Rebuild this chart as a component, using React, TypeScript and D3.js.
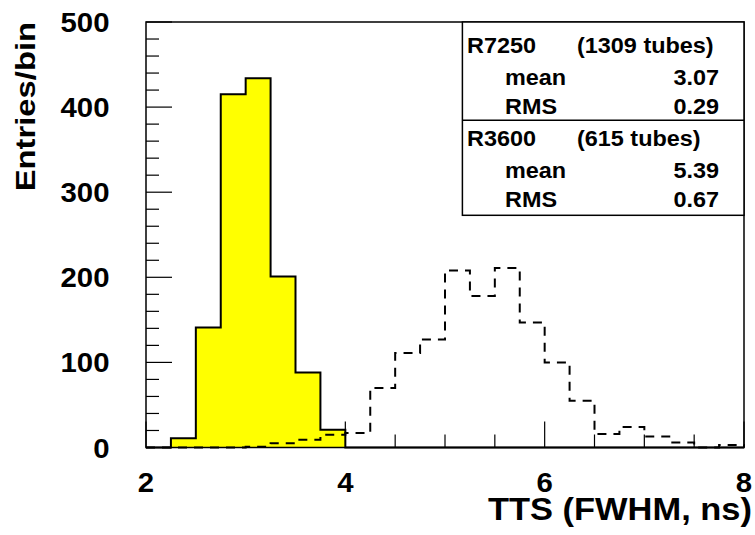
import React from "react";
import * as d3 from "d3";

// Histogram bin edges (ns), 0.25 ns bins over the full axis range
const binEdges = [
  2.0, 2.25, 2.5, 2.75, 3.0, 3.25, 3.5, 3.75, 4.0, 4.25, 4.5, 4.75, 5.0,
  5.25, 5.5, 5.75, 6.0, 6.25, 6.5, 6.75, 7.0, 7.25, 7.5, 7.75, 8.0,
];

// R7250 entries per bin (filled histogram)
const r7250Counts = [
  0, 11, 141, 415, 434, 201, 88, 21, 0, 0, 0, 0, 0, 0, 0, 0, 0, 0, 0, 0, 0, 0,
  0, 0,
];

// R3600 entries per bin (dashed outline)
const r3600Counts = [
  0, 0, 0, 0, 1, 5, 9, 15, 17, 70, 111, 127, 208, 178, 211, 147, 100, 55, 16,
  24, 13, 6, 0, 3,
];

const xMajorTicks = [2, 4, 6, 8];
const xMinorTicks = [2.5, 3, 3.5, 4.5, 5, 5.5, 6.5, 7, 7.5];
const yMajorTicks = [0, 100, 200, 300, 400, 500];
const yMinorStep = 20;

const legendRows = [
  { label: "R7250", count: "(1309 tubes)", mean: "3.07", rms: "0.29" },
  { label: "R3600", count: "(615 tubes)", mean: "5.39", rms: "0.67" },
];

const W = 755;
const H = 535;
const FONT = "'Liberation Sans', Arial, Helvetica, sans-serif";

const x = d3.scaleLinear().domain([2, 8]).range([146, 744]);
const y = d3.scaleLinear().domain([0, 500]).range([447.5, 22]);

function stepPath(counts: number[]): string {
  const pts: [number, number][] = [[binEdges[0], 0]];
  counts.forEach((c, i) => {
    pts.push([binEdges[i], c]);
    pts.push([binEdges[i + 1], c]);
  });
  pts.push([binEdges[binEdges.length - 1], 0]);
  const line = d3
    .line<[number, number]>()
    .x((d) => x(d[0]))
    .y((d) => y(d[1]));
  return line(pts) || "";
}

type TProps = {
  x: number;
  y: number;
  size: number;
  sx: number;
  anchor?: "start" | "middle" | "end";
  rotate?: number;
  children: React.ReactNode;
};

function T({ x: tx, y: ty, size, sx, anchor = "start", rotate = 0, children }: TProps) {
  return (
    <text
      transform={`translate(${tx},${ty}) rotate(${rotate}) scale(${sx},1)`}
      fontFamily={FONT}
      fontWeight="bold"
      fontSize={size}
      textAnchor={anchor}
      fill="#000"
    >
      {children}
    </text>
  );
}

export default function App() {
  const yMinor = d3.range(0, 500 + 1, yMinorStep).filter((v) => v % 100 !== 0);
  const legendX = 462.4;
  const legendTop = y(500);
  const legendRight = x(8);
  const dividerY = 120.3;
  const legendBottom = 215.3;
  const rowBase = [52.8, 84.9, 113.9];
  const blockStep = 93.5;

  return (
    <svg
      width={W}
      height={H}
      style={{ position: "absolute", left: 0, top: 0, background: "#fff" }}
    >
      <rect x={0} y={0} width={W} height={H} fill="#fff" />

      {/* axis ticks */}
      <g stroke="#000" strokeWidth={1.2}>
        {yMajorTicks.map((v) => (
          <line key={`ym${v}`} x1={x(2)} x2={x(2) + 26} y1={y(v)} y2={y(v)} />
        ))}
        {yMinor.map((v) => (
          <line key={`yn${v}`} x1={x(2)} x2={x(2) + 13} y1={y(v)} y2={y(v)} />
        ))}
        {xMajorTicks.map((v) => (
          <line key={`xm${v}`} x1={x(v)} x2={x(v)} y1={y(0)} y2={y(0) - 26} />
        ))}
        {xMinorTicks.map((v) => (
          <line key={`xn${v}`} x1={x(v)} x2={x(v)} y1={y(0)} y2={y(0) - 13} />
        ))}
      </g>

      {/* R7250 filled histogram */}
      <path
        d={stepPath(r7250Counts)}
        fill="#ffff00"
        stroke="#000"
        strokeWidth={2}
        strokeLinejoin="miter"
      />

      {/* R3600 dashed histogram */}
      <path
        d={stepPath(r3600Counts)}
        fill="none"
        stroke="#000"
        strokeWidth={2}
        strokeDasharray="9 7"
      />

      {/* frame */}
      <rect
        x={x(2)}
        y={y(500)}
        width={x(8) - x(2)}
        height={y(0) - y(500)}
        fill="none"
        stroke="#000"
        strokeWidth={1.5}
      />

      {/* y tick labels */}
      {yMajorTicks.map((v) => (
        <T key={`yl${v}`} x={109.5} y={y(v) + 10} size={28.5} sx={1.03} anchor="end">
          {v}
        </T>
      ))}

      {/* x tick labels */}
      {xMajorTicks.map((v) => (
        <T key={`xl${v}`} x={x(v)} y={492} size={28.5} sx={1.03} anchor="middle">
          {v}
        </T>
      ))}

      {/* axis titles */}
      <T x={752} y={520} size={30.5} sx={1.13} anchor="end">
        TTS (FWHM, ns)
      </T>
      <T x={35} y={22} size={28} sx={1.17} anchor="end" rotate={-90}>
        Entries/bin
      </T>

      {/* statistics box */}
      <g>
        <rect
          x={legendX}
          y={legendTop}
          width={legendRight - legendX}
          height={legendBottom - legendTop}
          fill="#fff"
          stroke="#000"
          strokeWidth={1.5}
        />
        <line
          x1={legendX}
          x2={legendRight}
          y1={dividerY}
          y2={dividerY}
          stroke="#000"
          strokeWidth={1.5}
        />
        {legendRows.map((r, i) => {
          const base = rowBase.map((b) => b + i * blockStep);
          return (
            <g key={r.label}>
              <T x={467} y={base[0]} size={21.5} sx={1.09}>
                {r.label}
              </T>
              <T x={577} y={base[0]} size={21.5} sx={1.09}>
                {r.count}
              </T>
              <T x={505} y={base[1]} size={21.5} sx={1.09}>
                mean
              </T>
              <T x={719} y={base[1]} size={21.5} sx={1.09} anchor="end">
                {r.mean}
              </T>
              <T x={505} y={base[2]} size={21.5} sx={1.09}>
                RMS
              </T>
              <T x={719} y={base[2]} size={21.5} sx={1.09} anchor="end">
                {r.rms}
              </T>
            </g>
          );
        })}
      </g>
    </svg>
  );
}
